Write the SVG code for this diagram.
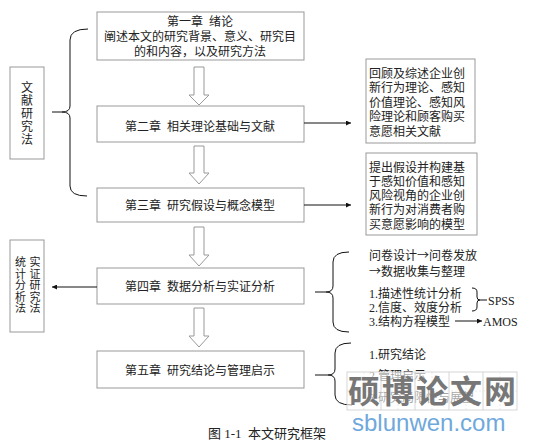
<svg xmlns="http://www.w3.org/2000/svg" width="534" height="445" viewBox="0 0 534 445">
<style>
text{font-family:"Liberation Serif","Noto Sans CJK SC",serif;font-size:12px;fill:#222;white-space:pre}
.c{text-anchor:middle}
.v{font-size:11px}
.ar{font-family:"Noto Sans CJK SC",sans-serif}
.box{fill:#fff;stroke:#999;stroke-width:1}
.barrow{fill:#fff;stroke:#999;stroke-width:1}
.ln{fill:none;stroke:#111;stroke-width:1}
.wm{font-family:"Noto Sans CJK SC",sans-serif;font-weight:bold;font-size:32px;fill:#777;text-anchor:middle}
</style>
<defs>
<marker id="ah" viewBox="0 0 6 6" refX="6" refY="3" markerWidth="5" markerHeight="5" orient="auto">
<path d="M0,0 L6,3 L0,6 Z" fill="#111"/>
</marker>
</defs>
<rect width="534" height="445" fill="#fff"/>

<g id="ch1"><rect class="box" x="97" y="12" width="207" height="48"/>
<text class="c" x="200" y="26">第一章  绪论</text>
<text class="c" x="200" y="41">阐述本文的研究背景、意义、研究目</text>
<text class="c" x="200" y="56">的和内容，以及研究方法</text></g>

<g id="ch2"><rect class="box" x="97" y="106" width="207" height="36"/>
<text class="c" x="200" y="131">第二章  相关理论基础与文献</text></g>

<g id="ch3"><rect class="box" x="97" y="188" width="207" height="34"/>
<text class="c" x="200" y="210">第三章  研究假设与概念模型</text></g>

<g id="ch4"><rect class="box" x="97" y="268" width="207" height="36"/>
<text class="c" x="200" y="291">第四章  数据分析与实证分析</text></g>

<g id="ch5"><rect class="box" x="97" y="351" width="207" height="37"/>
<text class="c" x="200" y="375">第五章  研究结论与管理启示</text></g>

<g id="lit"><rect class="box" x="10" y="67" width="34" height="92"/>
<text class="c" x="27" y="91.5">文</text>
<text class="c" x="27" y="104.5">献</text>
<text class="c" x="27" y="117.5">研</text>
<text class="c" x="27" y="130.5">究</text>
<text class="c" x="27" y="143.5">法</text></g>

<g id="emp"><rect class="box" x="10" y="240" width="34" height="92"/>
<text class="c v" x="35" y="266">实</text>
<text class="c v" x="35" y="277.5">证</text>
<text class="c v" x="35" y="289">研</text>
<text class="c v" x="35" y="300.5">究</text>
<text class="c v" x="35" y="312">法</text>
<text class="c v" x="20.5" y="266">统</text>
<text class="c v" x="20.5" y="277.5">计</text>
<text class="c v" x="20.5" y="289">分</text>
<text class="c v" x="20.5" y="300.5">析</text>
<text class="c v" x="20.5" y="312">法</text></g>

<g id="r1"><rect class="box" x="366" y="59" width="109" height="84"/>
<text x="369" y="77.5">回顾及综述企业创</text>
<text x="369" y="92">新行为理论、感知</text>
<text x="369" y="106.5">价值理论、感知风</text>
<text x="369" y="121">险理论和顾客购买</text>
<text x="369" y="135.5">意愿相关文献</text></g>

<g id="r2"><rect class="box" x="366" y="153" width="111" height="82"/>
<text x="369" y="171.5">提出假设并构建基</text>
<text x="369" y="186">于感知价值和感知</text>
<text x="369" y="200">风险视角的企业创</text>
<text x="369" y="214">新行为对消费者购</text>
<text x="369" y="228.5">买意愿影响的模型</text></g>

<g id="r4">
<text x="369" y="259.5">问卷设计<tspan class="ar">→</tspan>问卷发放</text>
<text x="369" y="275.5"><tspan class="ar">→</tspan>数据收集与整理</text>
<text x="369" y="297.5">1.描述性统计分析</text>
<text x="369" y="311.5">2.信度、效度分析</text>
<text x="369" y="325.5">3.结构方程模型</text>
<text x="488" y="304.5">SPSS</text>
<text x="483" y="325.5">AMOS</text></g>

<g id="r5">
<text x="369" y="358.5">1.研究结论</text>
<text x="369" y="379.5">2.管理启示</text>
<text x="369" y="401.5">3.研究局限性与展望</text></g>

<g id="connectors">
<path class="barrow" d="M194,67 H204 V95 H209 L199,105 L189,95 H194 Z"/>
<path class="barrow" d="M194,146 H204 V173 H209 L199,184 L189,173 H194 Z"/>
<path class="barrow" d="M194,227 H204 V255 H209 L199,266 L189,255 H194 Z"/>
<path class="barrow" d="M194,308 H204 V336 H209 L199,347 L189,336 H194 Z"/>
<path class="ln" d="M88,29 Q70,29 70,40 V106 Q70,112 62,112 H52 M62,112 Q70,112 70,118 V186 Q70,196 87,196"/>
<path class="ln" d="M349,252 Q333,252 333,262 V286 Q333,292 326,292 H315 M326,292 Q333,292 333,298 V322 Q333,332 349,332"/>
<path class="ln" d="M351,343 Q335,343 335,353 V369 Q335,375 328,375 H315 M328,375 Q335,375 335,381 V395 Q335,405 352,405"/>
<path class="ln" d="M472,288 Q477,288 477,292 V297 Q477,300 480,300 H487 M480,300 Q477,300 477,303 V307 Q477,311 472,311"/>
<line class="ln" x1="304" y1="123" x2="351" y2="123" marker-end="url(#ah)"/>
<line class="ln" x1="304" y1="205" x2="351" y2="205" marker-end="url(#ah)"/>
<line class="ln" x1="97" y1="287" x2="52" y2="287" marker-end="url(#ah)"/>
<line class="ln" x1="455" y1="321" x2="482" y2="321" marker-end="url(#ah)"/>
</g>

<text x="208" y="438" style="font-size:13px">图 1-1  本文研究框架</text>

<g id="watermark">
<rect x="347" y="372" width="170" height="38" fill="#fff" fill-opacity="0.6" stroke="#ccc" stroke-width="0.8"/>
<path d="M381,372 V410 M415,372 V410 M449,372 V410 M483,372 V410" stroke="#ccc" stroke-width="0.8"/>
<path d="M347,391 H517 M364,372 V410 M398,372 V410 M432,372 V410 M466,372 V410 M500,372 V410" stroke="#ddd" stroke-width="0.6" stroke-dasharray="2,2"/>
<text class="wm" x="364" y="403">硕</text>
<text class="wm" x="398" y="403">博</text>
<text class="wm" x="432" y="403">论</text>
<text class="wm" x="466" y="403">文</text>
<text class="wm" x="500" y="403">网</text>
<text x="352" y="431" style="font-family:'Liberation Sans',sans-serif;font-size:24px;fill:#6fa8dc">sblunwen.com</text>
</g>
</svg>
